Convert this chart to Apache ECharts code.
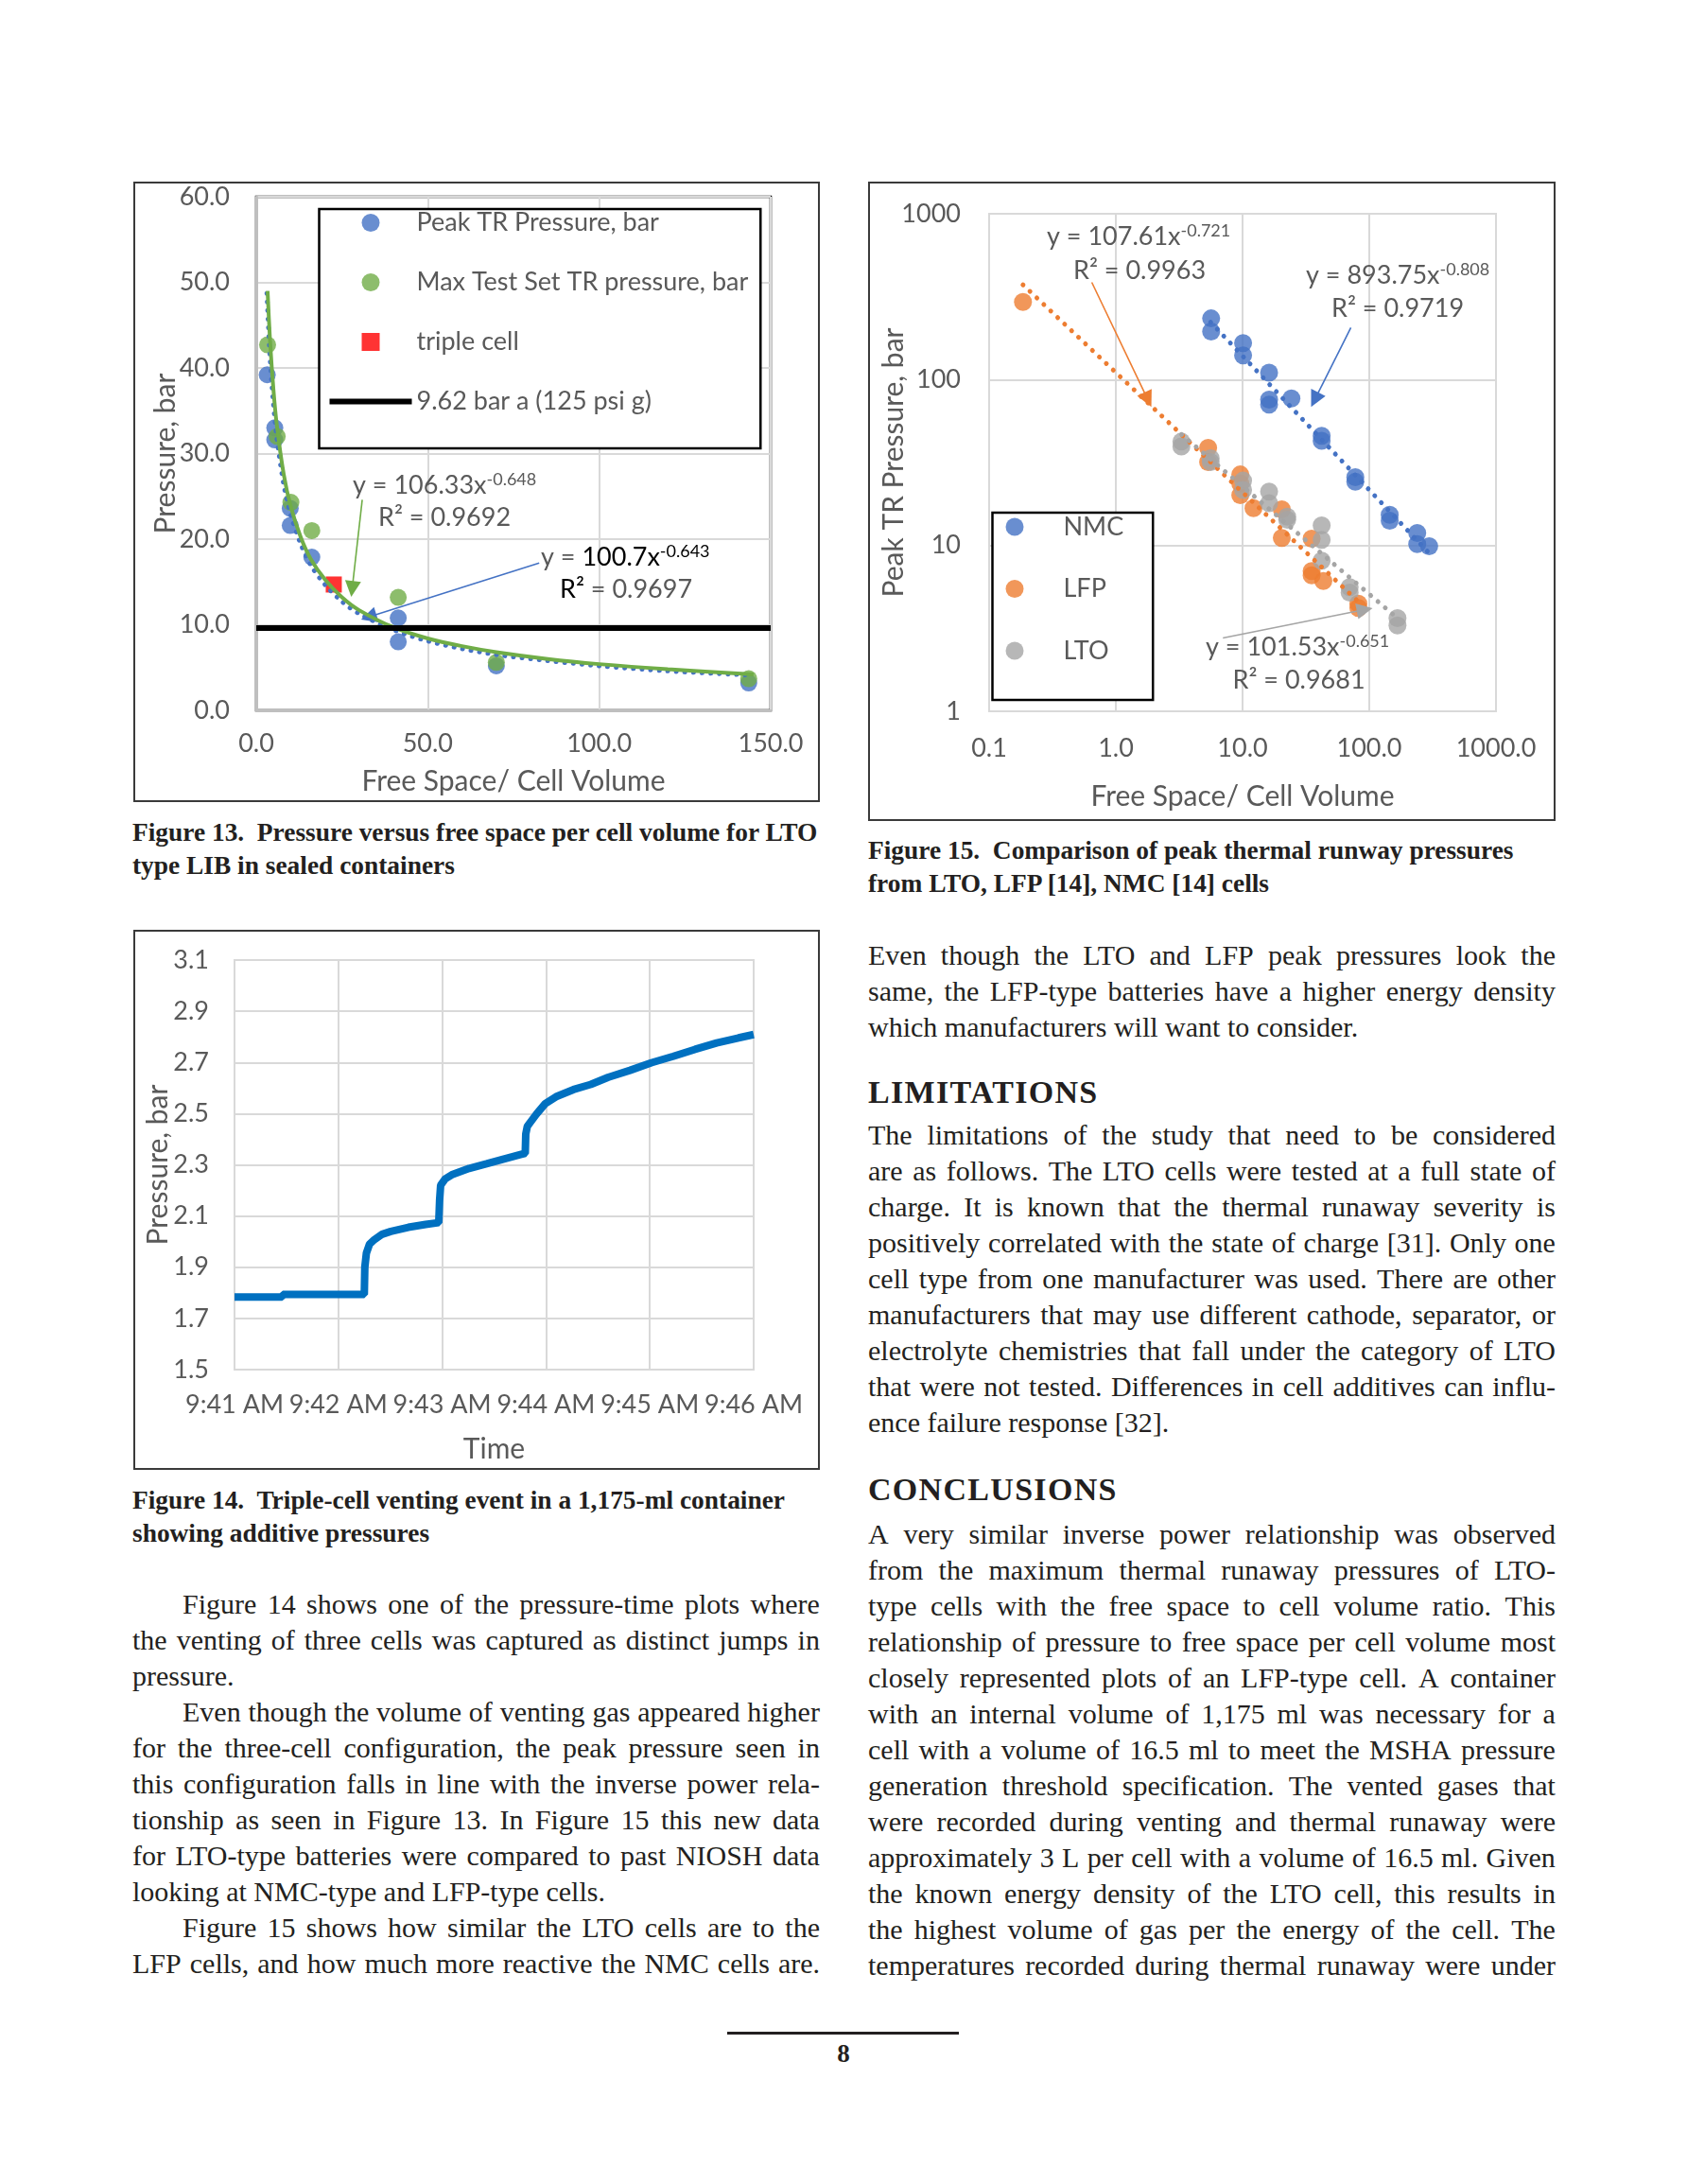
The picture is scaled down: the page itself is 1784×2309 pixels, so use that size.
<!DOCTYPE html>
<html>
<head>
<meta charset="utf-8">
<script src="https://cdn.jsdelivr.net/npm/echarts@6/dist/echarts.min.js"></script>
<style>
html,body{margin:0;padding:0;background:#fff;}
#page{position:relative;width:1784px;height:2309px;background:#fff;overflow:hidden;font-family:'Liberation Serif','Times New Roman',serif;color:#231f20;}
.frame{position:absolute;box-sizing:border-box;border:2px solid #3a3a3a;}
.chart{position:absolute;}
.cap{position:absolute;font-weight:bold;font-size:27.4px;line-height:35.4px;white-space:pre;}
.col{position:absolute;width:727px;font-size:30px;line-height:38px;}
.ln{display:flex;justify-content:space-between;white-space:nowrap;height:38px;}
.ln.last{display:block;}
.ln.ind{padding-left:53px;}
.head{position:absolute;font-weight:bold;font-size:34px;line-height:40px;letter-spacing:1.3px;white-space:nowrap;}
.rule{position:absolute;background:#231f20;}
.pnum{position:absolute;font-weight:bold;font-size:27px;line-height:30px;width:100px;text-align:center;}
</style>
</head>
<body>
<div id="page">
  <div class="frame" style="left:141px;top:192px;width:726px;height:656px"></div>
  <div id="c13" class="chart" style="left:141px;top:192px;width:726px;height:656px"></div>
  <div class="cap" style="left:140px;top:863px">Figure 13.  Pressure versus free space per cell volume for LTO
type LIB in sealed containers</div>

  <div class="frame" style="left:141px;top:983px;width:726px;height:571px"></div>
  <div id="c14" class="chart" style="left:141px;top:983px;width:726px;height:571px"></div>
  <div class="cap" style="left:140px;top:1569px">Figure 14.  Triple-cell venting event in a 1,175-ml container
showing additive pressures</div>

  <div id="leftBody" class="col" style="left:140px;top:1677px"></div>

  <div class="frame" style="left:918px;top:192px;width:727px;height:676px"></div>
  <div id="c15" class="chart" style="left:918px;top:192px;width:727px;height:676px"></div>
  <div class="cap" style="left:918px;top:882px">Figure 15.  Comparison of peak thermal runway pressures
from LTO, LFP [14], NMC [14] cells</div>

  <div id="rightBody1" class="col" style="left:918px;top:991px"></div>
  <div class="head" style="left:918px;top:1135px">LIMITATIONS</div>
  <div id="rightBody2" class="col" style="left:918px;top:1181px"></div>
  <div class="head" style="left:918px;top:1555px">CONCLUSIONS</div>
  <div id="rightBody3" class="col" style="left:918px;top:1603px"></div>

  <div class="rule" style="left:769px;top:2148px;width:245px;height:2.5px"></div>
  <div class="pnum" style="left:842px;top:2156px">8</div>
</div>
<script>
// ================= Figure 13 data =================
const f13PeakX = [3.2, 5.4, 5.4, 9.9, 9.9, 16.2, 41.4, 41.4, 70.0, 143.6];
const f13PeakY = [39.2, 33.0, 31.6, 23.6, 21.6, 17.9, 10.8, 8.0, 5.2, 3.2];
const f13MaxX = [3.3, 6.1, 10.1, 16.2, 41.4, 70.0, 143.6];
const f13MaxY = [42.7, 32.0, 24.3, 21.0, 13.2, 5.6, 3.7];
const f13TripleX = [22.6];
const f13TripleY = [14.7];
const f13LimitX = [0, 150];
const f13LimitY = [9.62, 9.62];
const f13PeakFitX = [3.1, 4, 5, 6, 8, 10, 13, 16, 20, 25, 30, 40, 50, 60, 70, 85, 100, 120, 145];
const f13PeakFitY = [48.7, 41.3, 35.8, 31.8, 26.4, 22.9, 19.4, 16.9, 14.7, 12.7, 11.3, 9.4, 8.1, 7.2, 6.5, 5.8, 5.2, 4.6, 4.1];
const f13MaxFitX = [3.3, 4, 5, 6, 8, 10, 13, 16, 20, 25, 30, 40, 50, 60, 70, 85, 100, 120, 145];
const f13MaxFitY = [49.0, 43.3, 37.5, 33.3, 27.6, 23.9, 20.2, 17.6, 15.3, 13.2, 11.7, 9.7, 8.4, 7.5, 6.8, 6.0, 5.4, 4.8, 4.2];
const f13XTicks = ['0.0', '50.0', '100.0', '150.0'];
const f13YTicks = ['0.0', '10.0', '20.0', '30.0', '40.0', '50.0', '60.0'];
// arrows (start -> end, data coords)
const f13GreenArrow = [[30.9, 24.6], [27.96, 14.18]];
const f13BlueArrow = [[82.5, 17.2], [32.8, 10.9]];

// ================= Figure 15 data =================
const f15NmcX = [5.65, 5.65, 10.1, 10.1, 16.2, 16.2, 16.2, 24.3, 42.1, 42.1, 77.6, 77.6, 145, 145, 239, 239, 297];
const f15NmcY = [234, 195, 166, 140, 110, 75.7, 70.6, 76.9, 45.8, 42.8, 25.8, 24.2, 15.3, 14.1, 11.9, 10.2, 9.9];
const f15LfpX = [0.185, 5.35, 5.35, 9.6, 9.6, 9.6, 12.2, 20.4, 20.4, 35.1, 35.1, 35.1, 43.4, 82, 82];
const f15LfpY = [294, 38.8, 31.8, 26.8, 23.6, 20.1, 16.8, 16.5, 11.1, 11.0, 7.0, 6.6, 6.1, 4.46, 4.2];
const f15LtoX = [3.29, 3.29, 5.6, 5.6, 10.1, 10.1, 16.2, 16.2, 22.5, 22.5, 42.1, 42.1, 42.1, 70, 70, 167, 167];
const f15LtoY = [42.3, 39.5, 33.6, 31.8, 24.6, 21.6, 21.1, 18.0, 14.9, 14.3, 13.2, 10.8, 8.1, 5.6, 5.2, 3.65, 3.29];
const f15NmcFitX = [5.6, 300];
const f15NmcFitY = [222, 8.9];
const f15LfpFitX = [0.185, 82];
const f15LfpFitY = [373, 4.58];
const f15LtoFitX = [3.3, 170];
const f15LtoFitY = [46.7, 3.6];
const f15XTicks = ['0.1', '1.0', '10.0', '100.0', '1000.0'];
const f15YTicks = ['1', '10', '100', '1000'];
const f15LfpArrow = [[0.646, 386], [1.79, 75.7]];
const f15NmcArrow = [[71.6, 206], [37.1, 75.7]];
const f15LtoArrow = [[7.0, 2.77], [92, 4.1]];

// ================= Figure 14 data =================
const f14Minutes = [0, 0.46, 0.465, 1.0, 1.25, 1.255, 1.27, 1.30, 1.339, 1.423, 1.506, 1.674, 1.841, 1.967, 1.975, 1.985, 2.029, 2.092, 2.259, 2.427, 2.594, 2.762, 2.80, 2.805, 2.82, 2.845, 2.908, 2.992, 3.096, 3.264, 3.431, 3.598, 3.808, 4.017, 4.226, 4.435, 4.644, 4.854, 5.0];
const f14Pressure = [1.784, 1.784, 1.794, 1.794, 1.794, 1.90, 1.955, 1.99, 2.005, 2.029, 2.04, 2.056, 2.067, 2.074, 2.16, 2.22, 2.245, 2.261, 2.286, 2.304, 2.323, 2.341, 2.345, 2.42, 2.45, 2.464, 2.498, 2.539, 2.566, 2.594, 2.614, 2.642, 2.669, 2.699, 2.724, 2.751, 2.776, 2.796, 2.809];
const f14XTicks = ['9:41 AM', '9:42 AM', '9:43 AM', '9:44 AM', '9:45 AM', '9:46 AM'];
const f14YTicks = ['1.5', '1.7', '1.9', '2.1', '2.3', '2.5', '2.7', '2.9', '3.1'];
const f14YMin = 1.5;

// ================= helpers =================
const zip = (xs, ys) => xs.map((x, i) => [x, ys[i]]);
const GRAY = '#595959';
const FONT = 'Lato';
const rich = {
  g: { fontSize: 27, fontFamily: FONT, fill: GRAY, lineHeight: 30 },
  gs: { fontSize: 18, fontFamily: FONT, fill: GRAY, lineHeight: 20, verticalAlign: 'top' },
  k: { fontSize: 27, fontFamily: FONT, fill: '#000', lineHeight: 30 },
  ks: { fontSize: 18, fontFamily: FONT, fill: '#000', lineHeight: 20, verticalAlign: 'top' }
};
function note(left, cy, text) {
  return { type: 'text', left: left, top: cy - 15, z: 100, silent: true, style: { text: text, rich: rich } };
}
function arrow(pts, color) {
  return {
    silent: true, animation: false, symbol: ['none', 'triangle'], symbolSize: 17,
    label: { show: false }, emphasis: { disabled: true },
    lineStyle: { color: color, width: 1.6, type: 'solid' },
    data: [[{ coord: pts[0] }, { coord: pts[1] }]]
  };
}
function axisCommon(extra) {
  return Object.assign({
    axisLine: { show: true, lineStyle: { color: '#BFBFBF', width: 3 } },
    axisTick: { show: false },
    splitLine: { show: true, lineStyle: { color: '#D9D9D9', width: 2 } },
    nameLocation: 'middle',
    nameMoveOverlap: false,
    nameTextStyle: { fontSize: 30, color: GRAY, fontFamily: FONT }
  }, extra);
}
const labelStyle = { fontSize: 27, color: GRAY, fontFamily: FONT };

// ================= Figure 13 chart =================
const c13 = echarts.init(document.getElementById('c13'));
c13.setOption({
  animation: false,
  textStyle: { fontFamily: FONT },
  grid: { left: 130, top: 16, width: 544, height: 543, show: true, borderColor: '#000', borderWidth: 2.5, outerBoundsMode: 'none' },
  xAxis: axisCommon({
    type: 'value', min: 0, max: 150, interval: 50,
    axisLabel: Object.assign({ margin: 22, formatter: v => f13XTicks[Math.round(v / 50)] }, labelStyle),
    name: 'Free Space/ Cell Volume', nameGap: 60
  }),
  yAxis: axisCommon({
    type: 'value', min: 0, max: 60, interval: 10,
    axisLabel: Object.assign({ margin: 28, formatter: v => f13YTicks[Math.round(v / 10)] }, labelStyle),
    name: 'Pressure, bar', nameGap: 81
  }),
  legend: {
    orient: 'vertical', left: 196.5, top: 29,
    data: [
      { name: 'Peak TR Pressure, bar' },
      { name: 'Max Test Set TR pressure, bar' },
      { name: 'triple cell', icon: 'path://M0,0M87,19M34,0L53,0L53,19L34,19Z' },
      { name: '9.62 bar a (125 psi g)', icon: 'path://M0,0M87,19M0,6.5L87,6.5L87,12.5L0,12.5Z' }
    ],
    itemWidth: 87, itemHeight: 19, itemGap: 36,
    padding: [1, 13, 36, 11],
    borderColor: '#000', borderWidth: 2.5, backgroundColor: '#fff',
    textStyle: { fontSize: 27, color: GRAY, fontFamily: FONT },
    selectedMode: false
  },
  graphic: [
    note(232, 321, '{g|y = 106.33x}{gs|-0.648}'),
    note(259, 357, '{g|R² = 0.9692}'),
    note(431, 397, '{g|y = }{k|100.7x}{ks|-0.643}'),
    note(451, 433, '{k|R²}{g| = 0.9697}')
  ],
  series: [
    { name: 'Peak TR Pressure, bar', type: 'scatter', data: zip(f13PeakX, f13PeakY), symbolSize: 18, itemStyle: { color: '#4472C4' }, z: 3 },
    { name: 'Max Test Set TR pressure, bar', type: 'scatter', data: zip(f13MaxX, f13MaxY), symbolSize: 18, itemStyle: { color: '#70AD47' }, z: 4 },
    { name: 'triple cell', type: 'scatter', symbol: 'rect', data: zip(f13TripleX, f13TripleY), symbolSize: 17, itemStyle: { color: '#FF0000' }, z: 5 },
    { name: 'Peak fit', type: 'line', data: zip(f13PeakFitX, f13PeakFitY), symbol: 'none', smooth: 0.3,
      lineStyle: { color: '#4472C4', width: 5, type: [0.1, 9], cap: 'round' }, z: 6, markLine: arrow(f13BlueArrow, '#4472C4') },
    { name: 'Max fit', type: 'line', data: zip(f13MaxFitX, f13MaxFitY), symbol: 'none', smooth: 0.3,
      lineStyle: { color: '#70AD47', width: 4 }, z: 7, markLine: arrow(f13GreenArrow, '#70AD47') },
    { name: '9.62 bar a (125 psi g)', type: 'line', data: zip(f13LimitX, f13LimitY), symbol: 'none', showSymbol: false,
      itemStyle: { color: '#000' }, lineStyle: { color: '#000', width: 6 }, z: 8 }
  ]
});

// ================= Figure 15 chart =================
const c15 = echarts.init(document.getElementById('c15'));
c15.setOption({
  animation: false,
  textStyle: { fontFamily: FONT },
  grid: { left: 128, top: 34, width: 536, height: 526, show: true, borderColor: '#D9D9D9', borderWidth: 2, outerBoundsMode: 'none' },
  xAxis: axisCommon({
    type: 'log', logBase: 10, min: 0.1, max: 1000,
    axisLine: { show: true, lineStyle: { color: '#D9D9D9', width: 2 } },
    axisLabel: Object.assign({ margin: 26, formatter: v => f15XTicks[Math.round(Math.log10(v)) + 1] }, labelStyle),
    name: 'Free Space/ Cell Volume', nameGap: 75
  }),
  yAxis: axisCommon({
    type: 'log', logBase: 10, min: 1, max: 1000,
    axisLine: { show: true, lineStyle: { color: '#D9D9D9', width: 2 } },
    axisLabel: Object.assign({ margin: 30, formatter: v => f15YTicks[Math.round(Math.log10(v))] }, labelStyle),
    name: 'Peak TR Pressure, bar', nameGap: 86
  }),
  legend: {
    orient: 'vertical', left: 131.5, top: 350,
    data: ['NMC', 'LFP', 'LTO'],
    itemWidth: 93, itemHeight: 19, itemGap: 38.5,
    padding: [1.5, 31, 38.5, 14],
    borderColor: '#000', borderWidth: 2.5, backgroundColor: '#fff',
    textStyle: { fontSize: 27, color: GRAY, fontFamily: FONT },
    selectedMode: false
  },
  graphic: [
    note(189, 58, '{g|y = 107.61x}{gs|-0.721}'),
    note(217, 96, '{g|R² = 0.9963}'),
    note(463, 99, '{g|y = 893.75x}{gs|-0.808}'),
    note(490, 136, '{g|R² = 0.9719}'),
    note(357, 492, '{g|y = 101.53x}{gs|-0.651}'),
    note(385.5, 528.6, '{g|R² = 0.9681}')
  ],
  series: [
    { name: 'NMC', type: 'scatter', data: zip(f15NmcX, f15NmcY), symbolSize: 19, itemStyle: { color: '#4472C4' }, z: 3 },
    { name: 'LFP', type: 'scatter', data: zip(f15LfpX, f15LfpY), symbolSize: 19, itemStyle: { color: '#ED7D31' }, z: 4 },
    { name: 'LTO', type: 'scatter', data: zip(f15LtoX, f15LtoY), symbolSize: 19, itemStyle: { color: '#A5A5A5' }, z: 5 },
    { name: 'NMC fit', type: 'line', data: zip(f15NmcFitX, f15NmcFitY), symbol: 'none',
      lineStyle: { color: '#4472C4', width: 5, type: [0.1, 10], cap: 'round' }, z: 6, markLine: arrow(f15NmcArrow, '#4472C4') },
    { name: 'LFP fit', type: 'line', data: zip(f15LfpFitX, f15LfpFitY), symbol: 'none',
      lineStyle: { color: '#ED7D31', width: 5, type: [0.1, 10], cap: 'round' }, z: 6, markLine: arrow(f15LfpArrow, '#ED7D31') },
    { name: 'LTO fit', type: 'line', data: zip(f15LtoFitX, f15LtoFitY), symbol: 'none',
      lineStyle: { color: '#A5A5A5', width: 5, type: [0.1, 10], cap: 'round' }, z: 6, markLine: arrow(f15LtoArrow, '#A5A5A5') }
  ]
});

// ================= Figure 14 chart =================
const c14 = echarts.init(document.getElementById('c14'));
c14.setOption({
  animation: false,
  textStyle: { fontFamily: FONT },
  grid: { left: 107, top: 32, width: 549, height: 433, show: true, borderColor: '#D9D9D9', borderWidth: 2, outerBoundsMode: 'none' },
  xAxis: axisCommon({
    type: 'value', min: 0, max: 5, interval: 1,
    axisLine: { show: true, lineStyle: { color: '#D9D9D9', width: 2 } },
    axisLabel: Object.assign({ margin: 24, formatter: v => f14XTicks[Math.round(v)] }, labelStyle),
    name: 'Time', nameGap: 69
  }),
  yAxis: axisCommon({
    type: 'value', min: 0, max: 1.6, interval: 0.2,
    axisLine: { show: true, lineStyle: { color: '#D9D9D9', width: 2 } },
    axisLabel: Object.assign({ margin: 27, formatter: v => f14YTicks[Math.round(v / 0.2)] }, labelStyle),
    name: 'Pressure, bar', nameGap: 66
  }),
  series: [
    { name: 'Pressure', type: 'line', data: zip(f14Minutes, f14Pressure.map(p => p - f14YMin)), symbol: 'none',
      lineStyle: { color: '#0070C0', width: 8 }, z: 3 }
  ]
});

// ================= body text =================
const leftLines = [
  { t: 'Figure 14 shows one of the pressure-time plots where', ind: true },
  { t: 'the venting of three cells was captured as distinct jumps in' },
  { t: 'pressure.', last: true },
  { t: 'Even though the volume of venting gas appeared higher', ind: true },
  { t: 'for the three-cell configuration, the peak pressure seen in' },
  { t: 'this configuration falls in line with the inverse power rela-' },
  { t: 'tionship as seen in Figure 13. In Figure 15 this new data' },
  { t: 'for LTO-type batteries were compared to past NIOSH data' },
  { t: 'looking at NMC-type and LFP-type cells.', last: true },
  { t: 'Figure 15 shows how similar the LTO cells are to the', ind: true },
  { t: 'LFP cells, and how much more reactive the NMC cells are.' }
];
const right1Lines = [
  { t: 'Even though the LTO and LFP peak pressures look the' },
  { t: 'same, the LFP-type batteries have a higher energy density' },
  { t: 'which manufacturers will want to consider.', last: true }
];
const right2Lines = [
  { t: 'The limitations of the study that need to be considered' },
  { t: 'are as follows. The LTO cells were tested at a full state of' },
  { t: 'charge. It is known that the thermal runaway severity is' },
  { t: 'positively correlated with the state of charge [31]. Only one' },
  { t: 'cell type from one manufacturer was used. There are other' },
  { t: 'manufacturers that may use different cathode, separator, or' },
  { t: 'electrolyte chemistries that fall under the category of LTO' },
  { t: 'that were not tested. Differences in cell additives can influ-' },
  { t: 'ence failure response [32].', last: true }
];
const right3Lines = [
  { t: 'A very similar inverse power relationship was observed' },
  { t: 'from the maximum thermal runaway pressures of LTO-' },
  { t: 'type cells with the free space to cell volume ratio. This' },
  { t: 'relationship of pressure to free space per cell volume most' },
  { t: 'closely represented plots of an LFP-type cell. A container' },
  { t: 'with an internal volume of 1,175 ml was necessary for a' },
  { t: 'cell with a volume of 16.5 ml to meet the MSHA pressure' },
  { t: 'generation threshold specification. The vented gases that' },
  { t: 'were recorded during venting and thermal runaway were' },
  { t: 'approximately 3 L per cell with a volume of 16.5 ml. Given' },
  { t: 'the known energy density of the LTO cell, this results in' },
  { t: 'the highest volume of gas per the energy of the cell. The' },
  { t: 'temperatures recorded during thermal runaway were under' }
];
function fill(id, lines) {
  const el = document.getElementById(id);
  lines.forEach(l => {
    const d = document.createElement('div');
    d.className = 'ln' + (l.last ? ' last' : '') + (l.ind ? ' ind' : '');
    if (l.last) {
      d.textContent = l.t;
    } else {
      l.t.split(' ').forEach(w => {
        const s = document.createElement('span');
        s.textContent = w;
        d.appendChild(s);
      });
    }
    el.appendChild(d);
  });
}
fill('leftBody', leftLines);
fill('rightBody1', right1Lines);
fill('rightBody2', right2Lines);
fill('rightBody3', right3Lines);
</script>
</body>
</html>
